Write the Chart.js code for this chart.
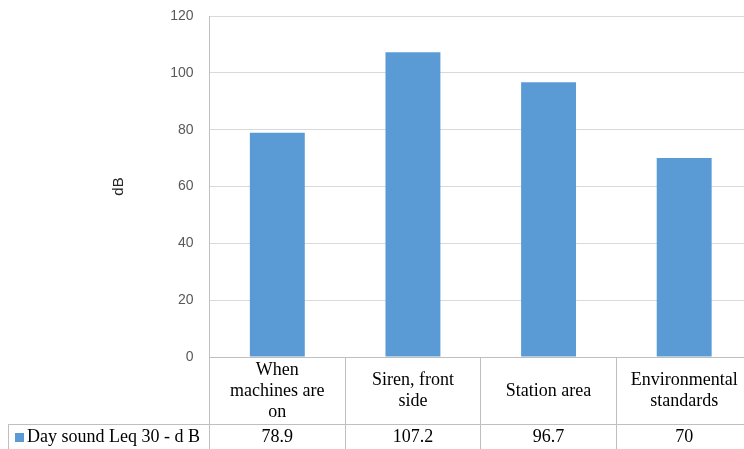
<!DOCTYPE html>
<html>
<head>
<meta charset="utf-8">
<script src="https://cdn.jsdelivr.net/npm/chart.js@4/dist/chart.umd.min.js"></script>
<style>
  html, body { margin: 0; padding: 0; background: #fff; overflow: hidden; width: 744px; height: 449px; }
  #wrap { position: relative; width: 752px; height: 449px; }
</style>
</head>
<body>
<div id="wrap"><canvas id="c" width="752" height="449"></canvas></div>
<script>
// Categories (multi-line header cells of the data table)
const categories = [
  ["When", "machines are", "on"],
  ["Siren, front", "side"],
  ["Station area"],
  ["Environmental", "standards"]
];
const seriesName = "Day sound Leq 30 - d B";
const dayValues = [78.9, 107.2, 96.7, 70];
const valueLabels = ["78.9", "107.2", "96.7", "70"];
const yMin = 0, yMax = 120, yStep = 20;

const BAR = "#5B9BD5";
const LINE = "#bfbfbf";
const SERIF = "'Liberation Serif', 'Times New Roman', serif";

// Draws the data table under the plot: header labels, value row and legend key
const dataTable = {
  id: "dataTable",
  afterDraw(chart) {
    const ctx = chart.ctx;
    const x = chart.scales.x;
    const W = chart.width, H = chart.height;
    const headTop = x.top;
    const rowTop = Math.round(headTop + 67);
    ctx.save();
    ctx.strokeStyle = LINE;
    ctx.lineWidth = 1;
    ctx.beginPath();
    ctx.moveTo(8, rowTop + 0.5); ctx.lineTo(W, rowTop + 0.5);
    ctx.moveTo(8.5, rowTop); ctx.lineTo(8.5, H);
    ctx.stroke();

    ctx.fillStyle = "#000";
    ctx.font = "18px " + SERIF;
    ctx.textAlign = "center";
    ctx.textBaseline = "middle";
    const lh = 21;
    categories.forEach((lines, i) => {
      const cx = x.getPixelForValue(i);
      const cy = headTop + 34;
      const y0 = cy - (lines.length - 1) * lh / 2;
      lines.forEach((t, k) => ctx.fillText(t, cx, y0 + k * lh));
      ctx.fillText(valueLabels[i], cx, rowTop + 13);
    });

    // legend key
    ctx.fillStyle = BAR;
    ctx.fillRect(15, rowTop + 9, 9, 9);
    ctx.fillStyle = "#000";
    ctx.textAlign = "left";
    ctx.fillText(seriesName, 27, rowTop + 13);
    ctx.restore();
  }
};

new Chart(document.getElementById("c"), {
  type: "bar",
  data: {
    labels: categories,
    datasets: [{
      label: seriesName,
      data: dayValues,
      backgroundColor: BAR,
      borderWidth: 0,
      categoryPercentage: 1,
      barPercentage: 0.405
    }]
  },
  options: {
    responsive: false,
    animation: false,
    devicePixelRatio: 1,
    layout: { padding: { left: 106, top: 16, right: 0, bottom: 0 } },
    plugins: { legend: { display: false }, tooltip: { enabled: false } },
    scales: {
      x: {
        offset: true,
        grid: { offset: true, drawOnChartArea: false, drawTicks: true, tickLength: 92, color: LINE },
        border: { display: true, color: LINE },
        ticks: { display: false },
        afterFit(s) { s.height = 92; }
      },
      y: {
        min: yMin, max: yMax,
        ticks: { stepSize: yStep, padding: 0, color: "#595959", font: { family: "'Liberation Sans', Arial, sans-serif", size: 14 } },
        grid: { color: "#d9d9d9", drawTicks: true, tickLength: 16, tickColor: "rgba(0,0,0,0)" },
        border: { display: true, color: LINE },
        title: { display: true, text: "dB", color: "#262626", font: { family: "'Liberation Sans', Arial, sans-serif", size: 15 } },
        afterFit(s) { s.width = 103.5; }
      }
    }
  },
  plugins: [dataTable]
});
</script>
</body>
</html>
